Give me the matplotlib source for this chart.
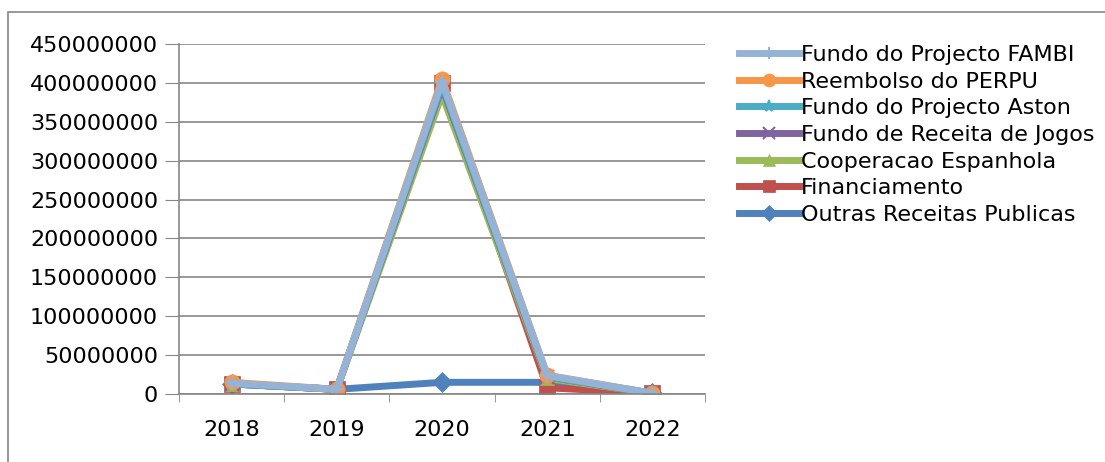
import matplotlib.pyplot as plt
from matplotlib.patches import Rectangle

years = ["2018", "2019", "2020", "2021", "2022"]

fambi = [14e6, 6e6, 402e6, 24e6, 1e6]
perpu = [15e6, 6e6, 405e6, 24e6, 1e6]
aston = [13e6, 6e6, 398e6, 22e6, 1e6]
jogos = [13e6, 6e6, 395e6, 22e6, 1e6]
cooperacao = [13e6, 6e6, 385e6, 20e6, 1e6]
financiamento = [13e6, 6e6, 400e6, 8e6, 1e6]
outras = [13e6, 6e6, 15e6, 15e6, 1e6]

names = ["Fundo do Projecto FAMBI", "Reembolso do PERPU", "Fundo do Projecto Aston",
         "Fundo de Receita de Jogos", "Cooperacao Espanhola", "Financiamento",
         "Outras Receitas Publicas"]
series = [fambi, perpu, aston, jogos, cooperacao, financiamento, outras]
colors = ["#95B3D7", "#F79646", "#4BACC6", "#8064A2", "#9BBB59", "#C0504D", "#4F81BD"]
markers = ["+", "o", "*", "x", "^", "s", "D"]

fig = plt.figure(figsize=(11.05, 4.62), dpi=100)
fig.patches.append(Rectangle((8 / 1105, -0.1), 1.2, 1 - 12 / 462 + 0.1,
                             transform=fig.transFigure, fill=False,
                             edgecolor="#868686", linewidth=1.2))

ax = fig.add_axes([179 / 1105, 1 - 394 / 462, 526 / 1105, 350 / 462])
x = list(range(len(years)))

# draw last series first so FAMBI ends up on top
handles = {}
for name, vals, c, m in reversed(list(zip(names, series, colors, markers))):
    ms = 11 if m in ("o", "s") else 10
    h, = ax.plot(x, vals, color=c, linewidth=5, marker=m, markersize=ms,
                 markeredgewidth=1.5 if m in ("+", "x", "*") else 0.5,
                 markeredgecolor=c, label=name)
    handles[name] = h

ax.set_xlim(-0.5, len(years) - 0.5)
ax.set_ylim(0, 450000000)
ax.set_yticks(range(0, 450000001, 50000000))
ax.set_yticklabels([str(v) for v in range(0, 450000001, 50000000)], fontsize=16)
ax.set_xticks(x)
ax.set_xticklabels(years, fontsize=16)
ax.set_xticks([i - 0.5 for i in range(len(years) + 1)], minor=True)
ax.tick_params(axis="x", which="major", length=0, pad=19)
ax.tick_params(axis="x", which="minor", length=6, color="#868686", direction="out")
ax.tick_params(axis="y", length=10, color="#868686", pad=5)
ax.grid(axis="y", color="#868686", linewidth=1.2)
ax.set_axisbelow(True)
for side in ["top", "right"]:
    ax.spines[side].set_visible(False)
for side in ["left", "bottom"]:
    ax.spines[side].set_color("#868686")
    ax.spines[side].set_linewidth(1.2)

leg = fig.legend([handles[n] for n in names], names, loc="upper left",
                 bbox_to_anchor=(730 / 1105, 1 - 36 / 462), frameon=False,
                 fontsize=16, handlelength=2.7, handletextpad=0.1,
                 labelspacing=0.3, borderaxespad=0, markerscale=0.85)

fig.savefig("out.png", dpi=100)
